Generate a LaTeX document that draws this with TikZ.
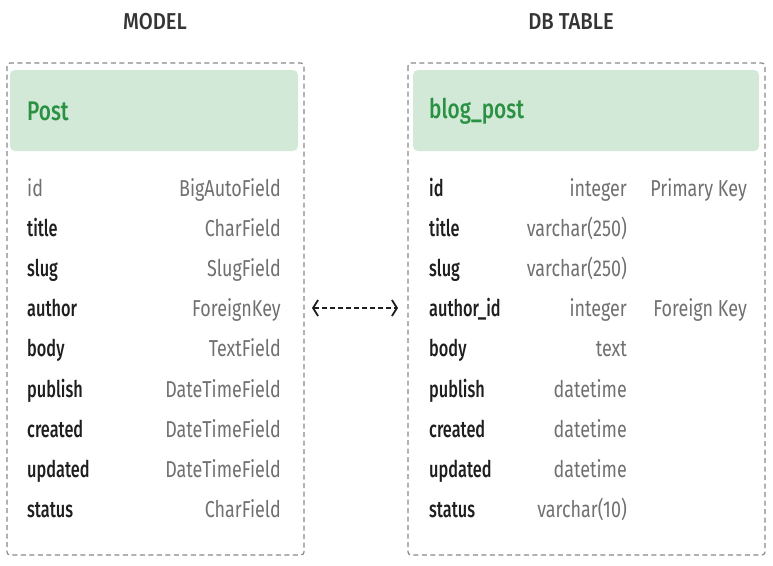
\documentclass[tikz,border=0pt]{standalone}
\usepackage{fontspec}
\setmainfont[FakeStretch=0.8]{Fira Sans}
\newfontfamily\medfont[FakeStretch=0.8]{Fira Sans Medium}
\usetikzlibrary{arrows.meta}
\definecolor{hdrfill}{HTML}{D3E9D8}
\definecolor{hdrtext}{HTML}{2A9142}
\definecolor{boxline}{HTML}{8A8A8A}
\definecolor{typecol}{HTML}{707070}
\definecolor{namecol}{HTML}{1E1E1E}
\newcommand{\rowfont}{\fontsize{23}{26}\selectfont\addfontfeature{FakeStretch=0.78}}
\newcommand{\namefont}{\medfont\fontsize{23}{26}\selectfont\addfontfeature{FakeStretch=0.71}}
\tikzset{
  x=1pt, y=-1pt,
  frame/.style={draw=boxline, line width=1.2pt, dash pattern=on 5pt off 3.5pt, rounded corners=3pt},
  hdr/.style={fill=hdrfill, rounded corners=5pt},
  title/.style={anchor=west, text=hdrtext, font=\medfont\fontsize{27}{30}\selectfont\addfontfeature{FakeStretch=0.77}, inner sep=0pt},
  caption/.style={text=namecol!90, font=\medfont\fontsize{23}{26}\selectfont\addfontfeature{FakeStretch=0.88}, inner sep=0pt},
  fname/.style={anchor=base west, text=namecol, font=\namefont, inner sep=0pt},
  ftype/.style={anchor=base east, text=typecol, font=\rowfont, inner sep=0pt},
  link/.style={draw=namecol, line width=1.3pt, dash pattern=on 5pt off 3pt, {Straight Barb[length=5pt,width=16pt,line width=1.8pt]}-{Straight Barb[length=5pt,width=16pt,line width=1.8pt]}}
}
\begin{document}
\begin{tikzpicture}
\useasboundingbox (0,0) rectangle (773,565);
\fill[white] (0,0) rectangle (773,565);
% headings
\node[caption] (hmodel) at (155,22) {MODEL};
\node[caption] (htable) at (571,22) {DB TABLE};
% frames
\draw[frame] (7,63) rectangle (304,555);
\draw[frame] (408,63) rectangle (765,555);
\fill[hdr] (10,70) rectangle (298,151);
\fill[hdr] (413,70) rectangle (759,151);
\node[title] (post) at (27,111) {Post};
\node[title] (blog) at (429,111) {blog\_post};
% left rows
\node[ftype, anchor=base west] (ln0) at (27,196) {id};
\node[ftype] (lt0) at (281,196) {BigAutoField};
\foreach \n/\t/\i in {title/CharField/1, slug/SlugField/2, author/ForeignKey/3, body/TextField/4, publish/DateTimeField/5, created/DateTimeField/6, updated/DateTimeField/7, status/CharField/8}{
  \node[fname] (ln\i) at (27,{196+40.2*\i}) {\n};
  \node[ftype] (lt\i) at (281,{196+40.2*\i}) {\t};
}
% right rows
\foreach \n/\t/\i in {id/integer/0, title/varchar(250)/1, slug/varchar(250)/2, author\_id/integer/3, body/text/4, publish/datetime/5, created/datetime/6, updated/datetime/7, status/varchar(10)/8}{
  \node[fname] (rn\i) at (429,{196+40.2*\i}) {\n};
  \node[ftype] (rt\i) at (627,{196+40.2*\i}) {\t};
}
\node[ftype] (pk) at (747,196) {Primary Key};
\node[ftype] (fk) at (747,{196+40.2*3}) {Foreign Key};
% link
\coordinate (la) at (312,308);
\coordinate (lb) at (398,308);
\draw[link] (la) -- (lb);
\end{tikzpicture}
\end{document}
